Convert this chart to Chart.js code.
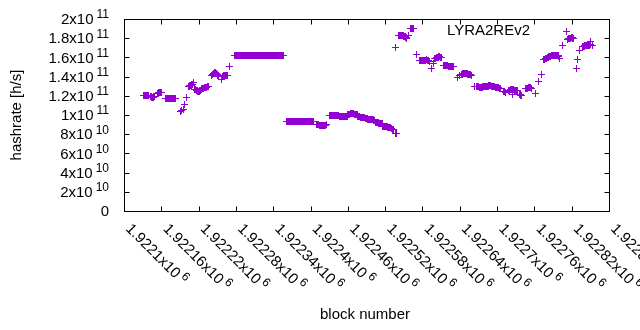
<!DOCTYPE html>
<html>
<head>
<meta charset="utf-8">
<script src="https://cdn.jsdelivr.net/npm/chart.js@4.4.0/dist/chart.umd.min.js"></script>
<style>
  body { margin: 0; background: #fff; }
  #wrap { width: 640px; height: 330px; }
</style>
</head>
<body>
<div id="wrap"><canvas id="hash-chart" width="640" height="330"></canvas></div>
<script>
// block numbers and hashrate (in 10^9 h/s)
const blockNumber = [
  1922132, 1922133, 1922134, 1922135, 1922136, 1922137, 1922138, 1922139, 1922140,
  1922143, 1922144, 1922145, 1922146, 1922147, 1922148, 1922149,
  1922154, 1922155, 1922156, 1922157, 1922158, 1922159, 1922160,
  1922167, 1922168, 1922169, 1922170, 1922171, 1922172, 1922173, 1922174, 1922175,
  1922176, 1922177, 1922178, 1922179, 1922180, 1922181, 1922182, 1922183,
  1922191, 1922193, 1922195, 1922198, 1922201,
  1922204, 1922205, 1922206, 1922207, 1922208, 1922209, 1922210, 1922211,
  1922214, 1922215, 1922216, 1922217, 1922218, 1922219, 1922220, 1922221, 1922222,
  1922223, 1922224, 1922225, 1922226, 1922227, 1922228, 1922229, 1922230, 1922231, 1922232, 1922233, 1922234, 1922235, 1922236,
  1922240, 1922241, 1922242, 1922243, 1922244, 1922245, 1922246, 1922247, 1922248, 1922249, 1922250, 1922251, 1922252, 1922256,
  1922258, 1922259, 1922260, 1922261, 1922262, 1922263, 1922264, 1922265, 1922266, 1922269,
  1922278, 1922279, 1922280, 1922281, 1922282, 1922283, 1922284, 1922285, 1922286, 1922287,
  1922288, 1922289, 1922290, 1922291, 1922292, 1922293, 1922294, 1922295, 1922296, 1922297,
  1922298, 1922299, 1922300, 1922301, 1922302, 1922303, 1922304, 1922305, 1922306, 1922307,
  1922308, 1922309, 1922310, 1922311, 1922312, 1922313, 1922314, 1922315, 1922316, 1922317,
  1922318, 1922319, 1922320, 1922321, 1922322, 1922323, 1922324, 1922325, 1922326, 1922327,
  1922328, 1922329, 1922330, 1922331, 1922332, 1922333, 1922334, 1922335, 1922336, 1922337,
  1922338, 1922339, 1922340, 1922341, 1922342, 1922343, 1922344, 1922345, 1922346, 1922347,
  1922348, 1922349, 1922350, 1922351, 1922352, 1922353, 1922354, 1922355, 1922356,
  1922361, 1922362, 1922363, 1922364, 1922365, 1922366, 1922367, 1922368, 1922369, 1922370,
  1922371, 1922372, 1922373, 1922374, 1922375, 1922376, 1922377, 1922378, 1922379, 1922380,
  1922381, 1922382, 1922383, 1922384, 1922385, 1922386, 1922387, 1922388, 1922389, 1922390,
  1922391, 1922392, 1922393, 1922394, 1922395, 1922396, 1922397, 1922398, 1922399, 1922400,
  1922401, 1922402, 1922403, 1922404, 1922405,
  1922410, 1922411, 1922412, 1922413, 1922414, 1922415, 1922416, 1922417, 1922418, 1922419,
  1922420, 1922421, 1922422, 1922423, 1922424, 1922425, 1922426,
  1922430, 1922431, 1922432, 1922433, 1922434, 1922435, 1922436, 1922437,
  1922438, 1922439, 1922440, 1922441, 1922442, 1922443, 1922444, 1922445,
  1922446, 1922447, 1922448, 1922449, 1922450, 1922451, 1922452,
  1922453, 1922454, 1922455, 1922456, 1922457, 1922458, 1922459,
  1922460, 1922461, 1922462, 1922463, 1922464, 1922465, 1922466, 1922467,
  1922468, 1922469, 1922470, 1922471, 1922472, 1922473, 1922474, 1922475,
  1922476, 1922477, 1922478, 1922479, 1922480, 1922481,
  1922482, 1922483, 1922484, 1922485, 1922486, 1922487,
  1922488, 1922489, 1922490, 1922491, 1922492, 1922493, 1922494, 1922495,
  1922496, 1922497, 1922498, 1922499, 1922500, 1922501, 1922502, 1922503,
  1922504, 1922505, 1922506, 1922507, 1922508, 1922509,
  1922510, 1922511, 1922512, 1922513, 1922514, 1922515,
  1922516, 1922517, 1922518, 1922519, 1922520, 1922521, 1922522,
  1922523, 1922524, 1922525, 1922526, 1922527, 1922528,
  1922530, 1922531, 1922532, 1922533, 1922534, 1922536, 1922538,
  1922537,
  1922541, 1922542, 1922543, 1922544, 1922545, 1922546, 1922547, 1922548,
  1922549, 1922550, 1922551, 1922552, 1922553, 1922554, 1922555, 1922558,
  1922560, 1922561, 1922562, 1922563, 1922564, 1922565, 1922566, 1922571,
  1922575, 1922576, 1922577, 1922578, 1922579, 1922580, 1922581, 1922582, 1922583, 1922584,
  1922585, 1922586, 1922587, 1922588, 1922589, 1922590, 1922591, 1922595, 1922598,
  1922600, 1922601, 1922602, 1922603, 1922604, 1922605, 1922606, 1922607, 1922608, 1922609, 1922610,
  1922614, 1922615, 1922616, 1922617, 1922618, 1922619, 1922620, 1922621, 1922622, 1922623,
  1922624, 1922625, 1922626, 1922627, 1922628, 1922629, 1922630, 1922637, 1922640,
  1922643, 1922644, 1922645, 1922646, 1922647, 1922648, 1922649, 1922650, 1922651, 1922652,
  1922653, 1922654, 1922655, 1922656, 1922657, 1922658, 1922659, 1922664,
  1922667, 1922668, 1922669, 1922670, 1922671, 1922672, 1922673, 1922674, 1922675, 1922676,
  1922677, 1922678, 1922679, 1922680, 1922681, 1922682, 1922683, 1922684, 1922685, 1922686,
  1922687, 1922688, 1922689, 1922690, 1922691, 1922692, 1922693, 1922694, 1922695, 1922696,
  1922697, 1922698, 1922699, 1922700, 1922701, 1922702, 1922703, 1922704, 1922705,
  1922710, 1922711, 1922712, 1922713, 1922714,
  1922719, 1922720, 1922721, 1922722, 1922723, 1922724, 1922725, 1922726,
  1922727, 1922728, 1922729, 1922730, 1922731, 1922732, 1922733, 1922724,
  1922736, 1922737, 1922738, 1922739, 1922740,
  1922746, 1922747, 1922748, 1922749, 1922750, 1922751, 1922752, 1922753, 1922754, 1922755, 1922756,
  1922761, 1922766, 1922772,
  1922775, 1922776, 1922777, 1922778, 1922779,
  1922781, 1922782, 1922783, 1922784, 1922785, 1922786, 1922787, 1922788, 1922789, 1922790,
  1922791, 1922792, 1922793, 1922794, 1922795, 1922796, 1922797, 1922798, 1922799,
  1922801, 1922806, 1922812,
  1922813, 1922814, 1922815, 1922816, 1922817, 1922818, 1922819, 1922820, 1922821, 1922822, 1922823,
  1922827, 1922830, 1922833,
  1922837, 1922838, 1922839, 1922840, 1922841, 1922842, 1922843, 1922844,
  1922845, 1922846, 1922847, 1922848, 1922849, 1922850, 1922851, 1922850, 1922854
];
const hashrateGH = [
  120.5, 120.5, 120.5, 120.5, 120.5, 120, 120, 120, 120,
  119, 119, 118.5, 118.5, 118.5, 119, 119,
  122.5, 122.5, 123, 123, 123, 123, 123,
  117.5, 117.5, 117.5, 117.5, 117, 117, 117.5, 117.5, 117,
  117, 117, 117.5, 117.5, 117.5, 117.5, 117.5, 117.5,
  104, 105, 106, 110.5, 118.5,
  130, 130, 130.5, 130.5, 131, 131.5, 132, 133.5,
  127, 126.5, 126, 125.5, 125.5, 125, 125, 125, 125.5,
  126, 127, 127.5, 128, 128, 128, 128.5, 128.5, 129, 129, 129, 129.5, 129.5, 129.5,
  141.5, 141.5, 142, 142.5, 143, 143.5, 144.5, 144, 143.5, 143, 142, 141, 140, 136.5,
  140.5, 140.5, 141, 141, 141.5, 141.5, 141.5, 141, 141, 150.5,
  162, 162, 162, 162, 162, 162, 162, 162, 162, 162,
  162, 162, 162, 162, 162, 162, 162, 162, 162, 162,
  162, 162, 162, 162, 162, 162, 162, 162, 162, 162,
  162, 162, 162, 162, 162, 162, 162, 162, 162, 162,
  162, 162, 162, 162, 162, 162, 162, 162, 162, 162,
  162, 162, 162, 162, 162, 162, 162, 162, 162, 162,
  162, 162, 162, 162, 162, 162, 162, 162, 162, 162,
  162, 162, 162, 162, 162, 162, 162, 162, 162,
  93.5, 93.5, 93.5, 93.5, 93.5, 93.5, 93.5, 93.5, 93.5, 93.5,
  93.5, 93.5, 93.5, 93.5, 93.5, 93.5, 93.5, 93.5, 93.5, 93.5,
  93.5, 93.5, 93.5, 93.5, 93.5, 93.5, 93.5, 93.5, 93.5, 93.5,
  93.5, 93.5, 93.5, 93.5, 93.5, 93.5, 93.5, 93.5, 93.5, 93.5,
  93.5, 93.5, 93.5, 93.5, 93.5,
  90, 90, 90, 90, 89.5, 89.5, 89.5, 89.5, 89.5, 89,
  89, 89, 89, 89.5, 89.5, 90, 90,
  100, 100, 100, 100, 100, 100, 100, 100,
  99.5, 99.5, 99.5, 99.5, 99, 99, 99, 99,
  98.5, 98.5, 98, 98, 98, 98, 98,
  98, 98, 98, 98.5, 98.5, 98.5, 98.5,
  100.5, 100.5, 101, 101, 101.5, 101.5, 101.5, 101.5,
  101.5, 101.5, 101, 101, 101, 101, 100.5, 100.5,
  98, 98, 98, 98, 97.5, 97.5,
  97.5, 97.5, 97, 97, 97, 97,
  96, 96, 96, 96, 95.5, 95.5, 95.5, 95.5,
  95.5, 95.5, 95, 95, 95, 95, 94.5, 94.5,
  92.5, 92.5, 92.5, 92.5, 92, 92,
  91.5, 91.5, 91.5, 91.5, 91, 91,
  88.5, 88.5, 88.5, 88.5, 88, 88, 88,
  88, 87.5, 87.5, 87.5, 87, 87,
  85.5, 85.5, 85, 84.5, 84.5, 80.5, 81,
  170.5,
  183, 183, 183, 183, 183, 183, 182.5, 182.5,
  182.5, 182, 181.5, 181.5, 181, 180.5, 180, 182.5,
  190, 190, 190.5, 190.5, 190.5, 190, 190, 163.5,
  157, 157, 157, 156.5, 156.5, 157, 157, 157, 157, 157,
  157, 157.5, 157.5, 157, 157, 156.5, 156, 148, 154,
  159, 159, 159.5, 159.5, 160, 160, 160.5, 160.5, 160.5, 160, 160,
  152, 152, 152, 152, 151.5, 151.5, 151.5, 151.5, 151, 151,
  151, 151, 150.5, 150.5, 150.5, 150.5, 150.5, 139, 141,
  142.5, 142.5, 143, 143, 143, 143, 143, 143, 143, 143,
  142.5, 142.5, 142, 142, 142, 142, 141.5, 130,
  129.5, 129.5, 129.5, 129.5, 129, 129, 129, 129, 129, 129,
  129.5, 129.5, 129.5, 129.5, 130, 130, 130, 130, 130, 130,
  130.5, 130.5, 130.5, 130.5, 130, 130, 129.5, 129.5, 129.5, 129.5,
  129, 129, 129, 129, 128.5, 128.5, 128.5, 128, 128,
  124.5, 124.5, 124, 123.5, 123.5,
  126, 126, 126.5, 126.5, 127, 127, 127, 126.5,
  126.5, 126, 126, 125.5, 125.5, 125.5, 125.5, 121,
  121, 121, 120.5, 120, 120,
  127.5, 127.5, 128, 128, 128.5, 128.5, 128.5, 128.5, 128.5, 128, 128,
  122, 134.5, 142,
  157.5, 157.5, 158, 158.5, 158.5,
  160, 160, 160.5, 160.5, 161, 161, 161.5, 161.5, 162, 162,
  162.5, 162.5, 162.5, 162.5, 162, 162, 161.5, 161.5, 161,
  159, 172, 187.5,
  179, 179, 179.5, 179.5, 180, 180, 180.5, 180.5, 180.5, 180, 180,
  148.5, 158, 167.5,
  171.5, 171.5, 171.5, 171.5, 172, 172, 172, 172,
  172, 172, 172.5, 172.5, 172.5, 173, 173, 176.5, 172
];

const xTicks = [1922100, 1922160, 1922220, 1922280, 1922340, 1922400, 1922460,
  1922520, 1922580, 1922640, 1922700, 1922760, 1922820, 1922880];
const xTickMant = ['1.9221', '1.92216', '1.92222', '1.92228', '1.92234', '1.9224', '1.92246',
  '1.92252', '1.92258', '1.92264', '1.9227', '1.92276', '1.92282', '1.92288'];
const xTickExp = '6';

const yTicks = [0, 2e10, 4e10, 6e10, 8e10, 1e11, 1.2e11, 1.4e11, 1.6e11, 1.8e11, 2e11];
const yTickMant = ['0', '2', '4', '6', '8', '1', '1.2', '1.4', '1.6', '1.8', '2'];
const yTickExp = ['', '10', '10', '10', '10', '11', '11', '11', '11', '11', '11'];

const FONT = '15px "Liberation Sans", Arial, sans-serif';
const SUP = '12px "Liberation Sans", Arial, sans-serif';
const PURPLE = '#9400d3';

const points = blockNumber.map((b, i) => ({ x: b, y: hashrateGH[i] * 1e9 }));

// gnuplot style "+" marker, 1px arms
const plusMark = document.createElement('canvas');
plusMark.width = 7;
plusMark.height = 7;
const pctx = plusMark.getContext('2d');
pctx.fillStyle = PURPLE;
pctx.fillRect(3, 0, 1, 7);
pctx.fillRect(0, 3, 7, 1);

function supLabel(ctx, mant, exp, x, y) {
  ctx.font = FONT;
  const text = exp ? mant + 'x10' : mant;
  ctx.fillText(text, x, y);
  if (exp) {
    const w = ctx.measureText(text).width;
    ctx.font = SUP;
    ctx.fillText(exp, x + w + 3, y - 5);
  }
}

function labelWidth(ctx, mant, exp) {
  ctx.font = FONT;
  const text = exp ? mant + 'x10' : mant;
  let w = ctx.measureText(text).width;
  if (exp) {
    ctx.font = SUP;
    w += 3 + ctx.measureText(exp).width;
  }
  return w;
}

const crispPoints = {
  id: 'crispPoints',
  beforeDatasetsDraw(chart) { chart.ctx.imageSmoothingEnabled = false; },
  afterDatasetsDraw(chart) { chart.ctx.imageSmoothingEnabled = true; }
};

const gnuplotFrame = {
  id: 'gnuplotFrame',
  afterDraw(chart) {
    const { ctx, chartArea: a, scales: { x, y } } = chart;
    const L = a.left + 0.5, R = a.right + 0.5, T = a.top + 0.5, B = a.bottom + 0.5;
    ctx.save();
    ctx.strokeStyle = '#000';
    ctx.lineWidth = 1;
    ctx.beginPath();
    yTicks.forEach(v => {
      const py = Math.round(y.getPixelForValue(v)) + 0.5;
      ctx.moveTo(L, py); ctx.lineTo(L + 5, py);
      ctx.moveTo(R, py); ctx.lineTo(R - 5, py);
    });
    xTicks.forEach(v => {
      const px = Math.round(x.getPixelForValue(v)) + 0.5;
      ctx.moveTo(px, B); ctx.lineTo(px, B - 5);
      ctx.moveTo(px, T); ctx.lineTo(px, T + 5);
    });
    ctx.stroke();
    ctx.strokeRect(L, T, R - L, B - T);

    ctx.fillStyle = '#000';
    ctx.textBaseline = 'middle';
    ctx.textAlign = 'left';
    yTicks.forEach((v, i) => {
      const py = y.getPixelForValue(v) + 1;
      const w = labelWidth(ctx, yTickMant[i], yTickExp[i]);
      supLabel(ctx, yTickMant[i], yTickExp[i], 109 - w, py);
    });

    xTicks.forEach((v, i) => {
      const px = x.getPixelForValue(v);
      ctx.save();
      ctx.translate(px + 4, B + 15);
      ctx.rotate(Math.PI / 4);
      supLabel(ctx, xTickMant[i], xTickExp, 0, 0);
      ctx.restore();
    });

    ctx.font = FONT;
    ctx.textAlign = 'center';
    ctx.fillText('block number', 365, 315);
    ctx.save();
    ctx.translate(17, 115);
    ctx.rotate(-Math.PI / 2);
    ctx.fillText('hashrate [h/s]', 0, 0);
    ctx.restore();
    ctx.textAlign = 'right';
    ctx.fillText('LYRA2REv2', 530, 31);
    ctx.restore();
  }
};

const ctx = document.getElementById('hash-chart');

const hashChart = new Chart(ctx, {
  type: 'scatter',
  data: {
    datasets: [{
      label: 'LYRA2REv2',
      data: points,
      pointStyle: plusMark,
      pointRadius: 4,
      pointHoverRadius: 4,
      borderColor: PURPLE,
      backgroundColor: PURPLE,
    }]
  },
  options: {
    responsive: false,
    animation: false,
    layout: { padding: { left: 124, right: 31, top: 19, bottom: 119 } },
    scales: {
      x: { type: 'linear', min: 1922100, max: 1922880, display: false },
      y: { min: 0, max: 2e11, display: false }
    },
    plugins: {
      legend: { display: false },
      tooltip: { enabled: false }
    }
  },
  plugins: [crispPoints, gnuplotFrame]
});
</script>
</body>
</html>
